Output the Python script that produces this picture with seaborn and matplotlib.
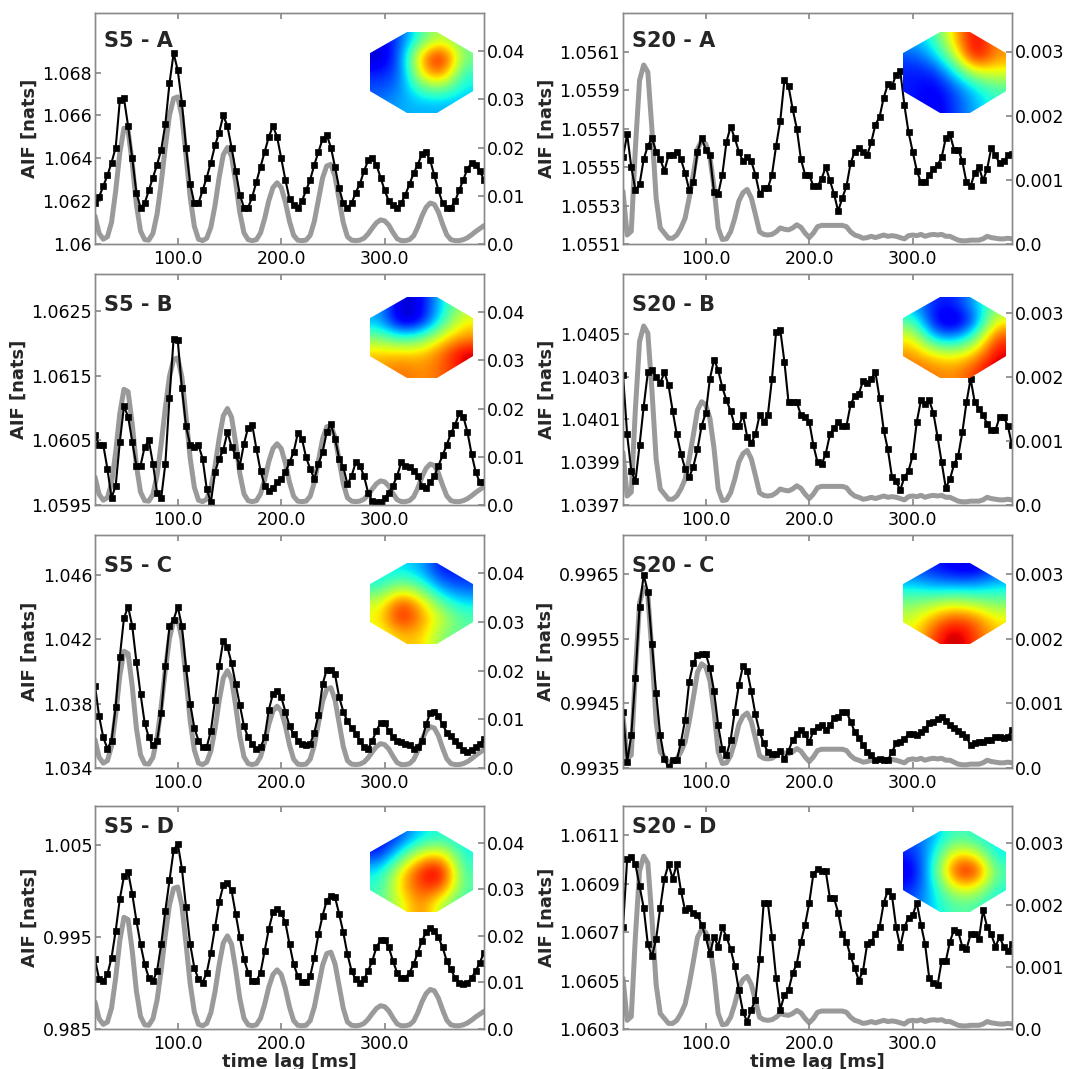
import numpy as np
import matplotlib
matplotlib.use("Agg")
import matplotlib.pyplot as plt
import seaborn as sns
from matplotlib.patches import Polygon

sns.set_theme(style="white")
plt.rcParams["font.family"] = ["DejaVu Sans"]

# ---------------- data ----------------
LAGS = list(range(20, 400, 4))  # time lag [ms]

S5_A = [1.0619, 1.0622, 1.0627, 1.0632, 1.0638, 1.0645, 1.0667, 1.0668, 1.0655, 1.0640,
        1.0624, 1.0617, 1.0619, 1.0625, 1.0631, 1.0637, 1.0644, 1.0656, 1.0675, 1.0689,
        1.0681, 1.0666, 1.0645, 1.0628, 1.0619, 1.0619, 1.0625, 1.0631, 1.0638, 1.0646,
        1.0652, 1.0660, 1.0655, 1.0645, 1.0634, 1.0623, 1.0617, 1.0617, 1.0622, 1.0629,
        1.0636, 1.0643, 1.0650, 1.0655, 1.0650, 1.0640, 1.0630, 1.0621, 1.0618, 1.0617,
        1.0620, 1.0625, 1.0630, 1.0637, 1.0643, 1.0649, 1.0651, 1.0645, 1.0636, 1.0626,
        1.0619, 1.0617, 1.0619, 1.0624, 1.0628, 1.0634, 1.0639, 1.0640, 1.0637, 1.0631,
        1.0625, 1.0620, 1.0618, 1.0617, 1.0619, 1.0623, 1.0628, 1.0633, 1.0637, 1.0642,
        1.0643, 1.0639, 1.0632, 1.0625, 1.0619, 1.0617, 1.0617, 1.0620, 1.0625, 1.0630,
        1.0635, 1.0638, 1.0637, 1.0634, 1.0630]

S5_B = [1.06058, 1.06043, 1.06043, 1.06006, 1.05961, 1.05980, 1.06048, 1.06103, 1.06087, 1.06048,
        1.06011, 1.06011, 1.06040, 1.06050, 1.06014, 1.05969, 1.05961, 1.06014, 1.06116, 1.06208,
        1.06205, 1.06131, 1.06072, 1.06043, 1.06040, 1.06043, 1.06022, 1.05975, 1.05954, 1.06001,
        1.06022, 1.06035, 1.06063, 1.06040, 1.06027, 1.06011, 1.06045, 1.06070, 1.06074, 1.06037,
        1.06003, 1.05980, 1.05972, 1.05977, 1.05985, 1.05990, 1.06001, 1.06016, 1.06032, 1.06061,
        1.06053, 1.06024, 1.06006, 1.05990, 1.06014, 1.06032, 1.06063, 1.06075, 1.06053, 1.06022,
        1.06009, 1.05982, 1.05995, 1.06016, 1.06011, 1.05995, 1.05969, 1.05956, 1.05955, 1.05955,
        1.05961, 1.05969, 1.05980, 1.05995, 1.06016, 1.06011, 1.06009, 1.06003, 1.05995, 1.05980,
        1.05977, 1.05985, 1.05995, 1.06011, 1.06027, 1.06043, 1.06061, 1.06074, 1.06092, 1.06087,
        1.06063, 1.06029, 1.06001, 1.05985, 1.05985]

S5_C = [1.0391, 1.0372, 1.0359, 1.0352, 1.0357, 1.0378, 1.0409, 1.0433, 1.0440, 1.0428,
        1.0406, 1.0386, 1.0368, 1.0359, 1.0354, 1.0357, 1.0374, 1.0403, 1.0428, 1.0432,
        1.0440, 1.0428, 1.0402, 1.0380, 1.0365, 1.0357, 1.0353, 1.0353, 1.0363, 1.0382,
        1.0403, 1.0419, 1.0415, 1.0405, 1.0392, 1.0379, 1.0366, 1.0359, 1.0355, 1.0352,
        1.0353, 1.0359, 1.0376, 1.0386, 1.0388, 1.0384, 1.0375, 1.0366, 1.0361, 1.0357,
        1.0355, 1.0354, 1.0355, 1.0362, 1.0373, 1.0392, 1.0401, 1.0401, 1.0398, 1.0384,
        1.0375, 1.0369, 1.0365, 1.0361, 1.0357, 1.0353, 1.0352, 1.0357, 1.0363, 1.0368,
        1.0368, 1.0363, 1.0359, 1.0357, 1.0356, 1.0355, 1.0354, 1.0352, 1.0353, 1.0357,
        1.0367, 1.0374, 1.0375, 1.0372, 1.0367, 1.0362, 1.0360, 1.0357, 1.0354, 1.0351,
        1.0350, 1.0351, 1.0353, 1.0355, 1.0358]

S5_D = [0.99256, 0.99038, 0.99020, 0.99093, 0.99275, 0.99565, 0.99911, 1.00155, 1.00202, 0.99965,
        0.99675, 0.99420, 0.99202, 0.99056, 0.99020, 0.99129, 0.99420, 0.99784, 1.00111, 1.00438,
        1.00511, 1.00238, 0.99820, 0.99420, 0.99165, 0.99038, 0.99002, 0.99111, 0.99329, 0.99602,
        0.99875, 1.00056, 1.00082, 1.00002, 0.99747, 0.99493, 0.99256, 0.99111, 0.99020, 0.99020,
        0.99111, 0.99347, 0.99584, 0.99765, 0.99802, 0.99755, 0.99656, 0.99420, 0.99202, 0.99075,
        0.99013, 0.99013, 0.99075, 0.99275, 0.99529, 0.99729, 0.99893, 0.99947, 0.99929, 0.99747,
        0.99547, 0.99311, 0.99129, 0.99038, 0.99002, 0.99038, 0.99129, 0.99238, 0.99384, 0.99464,
        0.99464, 0.99384, 0.99238, 0.99111, 0.99056, 0.99056, 0.99111, 0.99202, 0.99329, 0.99456,
        0.99547, 0.99591, 0.99565, 0.99493, 0.99384, 0.99238, 0.99147, 0.99056, 0.99002, 0.98990,
        0.99002, 0.99056, 0.99129, 0.99220, 0.99329]

S20_A = [1.05555, 1.05567, 1.05550, 1.05538, 1.05541, 1.05554, 1.05561, 1.05565, 1.05558, 1.05554,
         1.05548, 1.05556, 1.05556, 1.05558, 1.05554, 1.05547, 1.05538, 1.05542, 1.05558, 1.05565,
         1.05559, 1.05556, 1.05537, 1.05536, 1.05546, 1.05563, 1.05571, 1.05565, 1.05558, 1.05553,
         1.05555, 1.05553, 1.05546, 1.05536, 1.05539, 1.05539, 1.05546, 1.05561, 1.05574, 1.05595,
         1.05592, 1.05580, 1.05570, 1.05554, 1.05546, 1.05546, 1.05540, 1.05540, 1.05544, 1.05550,
         1.05543, 1.05536, 1.05527, 1.05534, 1.05540, 1.05552, 1.05558, 1.05560, 1.05558, 1.05556,
         1.05563, 1.05572, 1.05576, 1.05586, 1.05593, 1.05592, 1.05598, 1.05600, 1.05582, 1.05568,
         1.05558, 1.05548, 1.05542, 1.05542, 1.05546, 1.05549, 1.05551, 1.05555, 1.05565, 1.05567,
         1.05559, 1.05559, 1.05553, 1.05542, 1.05540, 1.05547, 1.05550, 1.05543, 1.05549, 1.05560,
         1.05556, 1.05552, 1.05553, 1.05556, 1.05557]

S20_B = [1.04031, 1.04003, 1.03986, 1.03981, 1.03998, 1.04016, 1.04032, 1.04033, 1.04030, 1.04027,
         1.04032, 1.04026, 1.04014, 1.04003, 1.03994, 1.03987, 1.03983, 1.03988, 1.03996, 1.04007,
         1.04013, 1.04029, 1.04038, 1.04033, 1.04025, 1.04019, 1.04014, 1.04007, 1.04007, 1.04012,
         1.04002, 1.03999, 1.04003, 1.04012, 1.04009, 1.04012, 1.04029, 1.04051, 1.04052, 1.04037,
         1.04018, 1.04018, 1.04018, 1.04012, 1.04011, 1.04009, 1.03998, 1.03990, 1.03989, 1.03994,
         1.04003, 1.04006, 1.04009, 1.04007, 1.04007, 1.04017, 1.04021, 1.04022, 1.04028, 1.04027,
         1.04029, 1.04032, 1.04020, 1.04005, 1.03996, 1.03983, 1.03981, 1.03977, 1.03983, 1.03986,
         1.03993, 1.04009, 1.04019, 1.04017, 1.04019, 1.04013, 1.04002, 1.03990, 1.03978, 1.03982,
         1.03989, 1.03993, 1.04004, 1.04018, 1.04029, 1.04018, 1.04015, 1.04012, 1.04008, 1.04005,
         1.04005, 1.04011, 1.04011, 1.04007, 1.03998]

S20_C = [0.99437, 0.99359, 0.99401, 0.99490, 0.99600, 0.99649, 0.99623, 0.99542, 0.99466, 0.99401,
         0.99364, 0.99351, 0.99362, 0.99362, 0.99390, 0.99424, 0.99484, 0.99513, 0.99525, 0.99526,
         0.99527, 0.99505, 0.99469, 0.99416, 0.99379, 0.99370, 0.99393, 0.99437, 0.99479, 0.99508,
         0.99501, 0.99469, 0.99433, 0.99406, 0.99388, 0.99375, 0.99372, 0.99372, 0.99376, 0.99364,
         0.99377, 0.99393, 0.99403, 0.99409, 0.99402, 0.99390, 0.99407, 0.99414, 0.99416, 0.99409,
         0.99416, 0.99427, 0.99429, 0.99437, 0.99437, 0.99422, 0.99406, 0.99397, 0.99385, 0.99375,
         0.99370, 0.99363, 0.99364, 0.99363, 0.99362, 0.99375, 0.99388, 0.99390, 0.99395, 0.99403,
         0.99403, 0.99401, 0.99406, 0.99411, 0.99419, 0.99422, 0.99426, 0.99429, 0.99423, 0.99416,
         0.99412, 0.99407, 0.99403, 0.99398, 0.99385, 0.99389, 0.99390, 0.99391, 0.99393, 0.99394,
         0.99398, 0.99398, 0.99397, 0.99398, 0.99409]

S20_D = [1.06072, 1.06100, 1.06101, 1.06098, 1.06089, 1.06080, 1.06065, 1.06060, 1.06067, 1.06080,
         1.06092, 1.06098, 1.06092, 1.06098, 1.06087, 1.06079, 1.06080, 1.06078, 1.06077, 1.06073,
         1.06068, 1.06061, 1.06068, 1.06064, 1.06072, 1.06068, 1.06063, 1.06056, 1.06046, 1.06037,
         1.06033, 1.06038, 1.06042, 1.06059, 1.06082, 1.06082, 1.06068, 1.06051, 1.06038, 1.06044,
         1.06046, 1.06053, 1.06057, 1.06066, 1.06073, 1.06082, 1.06094, 1.06096, 1.06095, 1.06095,
         1.06084, 1.06084, 1.06078, 1.06069, 1.06066, 1.06060, 1.06055, 1.06050, 1.06054, 1.06065,
         1.06066, 1.06069, 1.06072, 1.06082, 1.06087, 1.06085, 1.06072, 1.06064, 1.06072, 1.06076,
         1.06077, 1.06082, 1.06073, 1.06065, 1.06051, 1.06049, 1.06048, 1.06058, 1.06058, 1.06066,
         1.06071, 1.06070, 1.06064, 1.06063, 1.06069, 1.06069, 1.06067, 1.06079, 1.06072, 1.06069,
         1.06064, 1.06068, 1.06064, 1.06062, 1.06065]

GRAY_S5 = [0.0058, 0.0022, 0.0010, 0.0015, 0.0045, 0.0110, 0.0190, 0.0240, 0.0235, 0.0168,
           0.0082, 0.0027, 0.0009, 0.0008, 0.0022, 0.0062, 0.0127, 0.0202, 0.0267, 0.0302,
           0.0305, 0.0265, 0.0183, 0.0097, 0.0037, 0.0010, 0.0007, 0.0012, 0.0035, 0.0080,
           0.0138, 0.0185, 0.0200, 0.0182, 0.0128, 0.0065, 0.0023, 0.0009, 0.0007, 0.0009,
           0.0023, 0.0053, 0.0090, 0.0117, 0.0127, 0.0117, 0.0087, 0.0047, 0.0018, 0.0008,
           0.0007, 0.0008, 0.0018, 0.0047, 0.0092, 0.0137, 0.0162, 0.0165, 0.0140, 0.0092,
           0.0044, 0.0015, 0.0008, 0.0007, 0.0008, 0.0012, 0.0021, 0.0033, 0.0044, 0.0050,
           0.0048, 0.0039, 0.0024, 0.0011, 0.0007, 0.0007, 0.0009, 0.0017, 0.0035, 0.0058,
           0.0076, 0.0085, 0.0082, 0.0066, 0.0041, 0.0019, 0.0009, 0.0007, 0.0007, 0.0009,
           0.0013, 0.0019, 0.0026, 0.0032, 0.0038]

GRAY_S20 = [0.00082, 0.00014, 0.00020, 0.00150, 0.00255, 0.00279, 0.00268, 0.00178, 0.00072, 0.00025,
            0.00017, 0.00009, 0.00009, 0.00014, 0.00025, 0.00040, 0.00072, 0.00109, 0.00148, 0.00161,
            0.00156, 0.00135, 0.00088, 0.00025, 0.00007, 0.00008, 0.00019, 0.00040, 0.00067, 0.00080,
            0.00085, 0.00072, 0.00046, 0.00019, 0.00015, 0.00014, 0.00015, 0.00019, 0.00025, 0.00023,
            0.00022, 0.00025, 0.00030, 0.00026, 0.00017, 0.00010, 0.00017, 0.00027, 0.00029, 0.00029,
            0.00029, 0.00029, 0.00029, 0.00029, 0.00027, 0.00019, 0.00014, 0.00012, 0.00009, 0.00010,
            0.00012, 0.00010, 0.00012, 0.00014, 0.00012, 0.00013, 0.00012, 0.00010, 0.00008, 0.00013,
            0.00014, 0.00013, 0.00015, 0.00012, 0.00014, 0.00015, 0.00014, 0.00015, 0.00012, 0.00012,
            0.00009, 0.00006, 0.00005, 0.00005, 0.00006, 0.00006, 0.00006, 0.00008, 0.00012, 0.00010,
            0.00009, 0.00008, 0.00008, 0.00009, 0.00008]

YTICKS_S5_A = [1.06, 1.062, 1.064, 1.066, 1.068]
YTICKS_S5_B = [1.0595, 1.0605, 1.0615, 1.0625]
YTICKS_S5_C = [1.034, 1.038, 1.042, 1.046]
YTICKS_S5_D = [0.985, 0.995, 1.005]
YTICKS_S20_A = [1.0551, 1.0553, 1.0555, 1.0557, 1.0559, 1.0561]
YTICKS_S20_B = [1.0397, 1.0399, 1.0401, 1.0403, 1.0405]
YTICKS_S20_C = [0.9935, 0.9945, 0.9955, 0.9965]
YTICKS_S20_D = [1.0603, 1.0605, 1.0607, 1.0609, 1.0611]

YLIM_TOPS = {"S5 - A": 1.07078, "S5 - B": 1.06308, "S5 - C": 1.04845, "S5 - D": 1.00918,
             "S20 - A": 1.05630, "S20 - B": 1.04078, "S20 - C": 0.99711, "S20 - D": 1.06122}

RIGHT_TICKS_S5 = [0.0, 0.01, 0.02, 0.03, 0.04]
RIGHT_TICKS_S20 = [0.0, 0.001, 0.002, 0.003]
RIGHT_TOP_S5 = 0.0479
RIGHT_TOP_S20 = 0.00360

XTICKS = [100, 200, 300]
XTICKLABELS = ["100.0", "200.0", "300.0"]

# topographic maps (relative activation, 0 = blue ... 1 = dark red), rows top->bottom
TOPO_S5_A = [[0.10, 0.20, 0.45, 0.60, 0.45],
             [0.05, 0.22, 0.75, 0.97, 0.50],
             [0.15, 0.20, 0.70, 0.85, 0.40],
             [0.20, 0.25, 0.45, 0.50, 0.35],
             [0.25, 0.30, 0.30, 0.30, 0.30]]
TOPO_S20_A = [[0.30, 0.40, 0.70, 0.95, 0.75],
              [0.20, 0.30, 0.55, 0.97, 0.75],
              [0.15, 0.15, 0.35, 0.60, 0.62],
              [0.15, 0.10, 0.20, 0.35, 0.45],
              [0.15, 0.08, 0.18, 0.30, 0.40]]
TOPO_S5_B = [[0.30, 0.05, 0.10, 0.35, 0.55],
             [0.30, 0.03, 0.10, 0.40, 0.65],
             [0.50, 0.40, 0.45, 0.65, 0.75],
             [0.70, 0.70, 0.70, 0.80, 0.95],
             [0.75, 0.80, 0.75, 0.80, 0.90]]
TOPO_S20_B = [[0.30, 0.15, 0.15, 0.30, 0.50],
              [0.45, 0.10, 0.03, 0.20, 0.65],
              [0.65, 0.30, 0.25, 0.45, 0.85],
              [0.75, 0.65, 0.60, 0.70, 0.92],
              [0.80, 0.78, 0.75, 0.85, 0.95]]
TOPO_S5_C = [[0.35, 0.35, 0.30, 0.12, 0.15],
             [0.40, 0.55, 0.45, 0.25, 0.20],
             [0.60, 0.88, 0.70, 0.45, 0.35],
             [0.65, 0.92, 0.75, 0.60, 0.45],
             [0.60, 0.70, 0.70, 0.50, 0.45]]
TOPO_S20_C = [[0.20, 0.15, 0.10, 0.08, 0.20],
              [0.35, 0.30, 0.30, 0.30, 0.35],
              [0.50, 0.55, 0.60, 0.55, 0.50],
              [0.60, 0.75, 0.85, 0.80, 0.65],
              [0.65, 0.85, 0.97, 0.85, 0.70]]
TOPO_S5_D = [[0.10, 0.20, 0.35, 0.40, 0.35],
             [0.15, 0.40, 0.65, 0.70, 0.38],
             [0.35, 0.65, 0.90, 0.97, 0.42],
             [0.40, 0.70, 0.85, 0.85, 0.45],
             [0.45, 0.60, 0.80, 0.55, 0.40]]
TOPO_S20_D = [[0.20, 0.30, 0.45, 0.40, 0.35],
              [0.15, 0.35, 0.70, 0.65, 0.35],
              [0.08, 0.40, 0.88, 0.95, 0.45],
              [0.15, 0.35, 0.65, 0.65, 0.40],
              [0.20, 0.35, 0.45, 0.45, 0.35]]

OCTAGON = [(0.36, 1.0), (0.65, 1.0), (1.0, 0.74), (1.0, 0.27),
           (0.65, 0.0), (0.36, 0.0), (0.0, 0.27), (0.0, 0.74)]

PANELS = [
    ("S5 - A", S5_A, GRAY_S5, YTICKS_S5_A, TOPO_S5_A),
    ("S20 - A", S20_A, GRAY_S20, YTICKS_S20_A, TOPO_S20_A),
    ("S5 - B", S5_B, GRAY_S5, YTICKS_S5_B, TOPO_S5_B),
    ("S20 - B", S20_B, GRAY_S20, YTICKS_S20_B, TOPO_S20_B),
    ("S5 - C", S5_C, GRAY_S5, YTICKS_S5_C, TOPO_S5_C),
    ("S20 - C", S20_C, GRAY_S20, YTICKS_S20_C, TOPO_S20_C),
    ("S5 - D", S5_D, GRAY_S5, YTICKS_S5_D, TOPO_S5_D),
    ("S20 - D", S20_D, GRAY_S20, YTICKS_S20_D, TOPO_S20_D),
]

# ---------------- layout (pixels) ----------------
W, H = 1072, 1069
COL_X = [(95, 484), (623, 1012)]
ROW_Y = [(13, 244), (274, 505), (535, 768), (806, 1029)]
INSET_X = [(370, 473), (903, 1006)]
INSET_Y = [(32, 113), (297, 378), (563, 644), (831, 912)]
TITLE_X = [104, 632]
TITLE_BASE = [47, 311, 572, 833]

SPINE = "#8a8a8a"
GRAY = "#9a9a9a"

fig = plt.figure(figsize=(W / 100, H / 100), dpi=100)


def fig_rect(x0, x1, ytop, ybot):
    return [x0 / W, 1 - ybot / H, (x1 - x0) / W, (ybot - ytop) / H]


for i, (title, black, gray, yticks, topo) in enumerate(PANELS):
    r, c = divmod(i, 2)
    x0, x1 = COL_X[c]
    yt, yb = ROW_Y[r]
    ax = fig.add_axes(fig_rect(x0, x1, yt, yb))
    ax2 = ax.twinx()

    sns.lineplot(x=LAGS, y=gray, ax=ax2, color=GRAY, lw=3.6, estimator=None,
                 sort=False, solid_capstyle="round")
    sns.lineplot(x=LAGS, y=black, ax=ax, color="black", lw=1.5, marker="s",
                 markersize=4.2, markeredgecolor="black", markeredgewidth=0.5,
                 estimator=None, sort=False)

    ax.set_zorder(ax2.get_zorder() + 1)
    ax.patch.set_visible(False)

    ax.set_xlim(LAGS[0], LAGS[-1])
    ax.set_ylim(yticks[0], YLIM_TOPS[title])
    ax.set_yticks(yticks)
    ax.set_yticklabels([repr(v) for v in yticks])
    ax.set_xticks(XTICKS)
    ax.set_xticklabels(XTICKLABELS)

    is_s5 = title.startswith("S5")
    rt = RIGHT_TICKS_S5 if is_s5 else RIGHT_TICKS_S20
    ax2.set_ylim(0, RIGHT_TOP_S5 if is_s5 else RIGHT_TOP_S20)
    ax2.set_yticks(rt)
    ax2.set_yticklabels([repr(v) for v in rt])

    ax.tick_params(axis="x", direction="in", bottom=True, top=True, length=4,
                   color=SPINE, labelsize=12.5, pad=4, labelcolor="black")
    ax.tick_params(axis="y", direction="in", left=True, right=False, length=4,
                   color=SPINE, labelsize=12.5, pad=2, labelcolor="black")
    ax2.tick_params(axis="y", direction="in", right=True, left=False, length=4,
                    color=SPINE, labelsize=12.5, pad=2, labelcolor="black")
    for a in (ax, ax2):
        for s in a.spines.values():
            s.set_color(SPINE)
            s.set_linewidth(1.0)
    ax2.grid(False)
    ax.grid(False)

    ax.set_ylabel("AIF [nats]", fontsize=13, fontweight="bold", labelpad=3)
    ax2.set_ylabel("")
    if r == 3:
        ax.set_xlabel("time lag [ms]", fontsize=13, fontweight="bold", labelpad=0)
    else:
        ax.set_xlabel("")

    fig.text(TITLE_X[c] / W, 1 - TITLE_BASE[r] / H, title, fontsize=15,
             fontweight="bold", va="baseline", ha="left", zorder=20)

    # topographic inset
    ix0, ix1 = INSET_X[c]
    iy0, iy1 = INSET_Y[r]
    axi = fig.add_axes(fig_rect(ix0, ix1, iy0, iy1))
    axi.set_zorder(10)
    im = axi.imshow(np.array(topo), cmap="jet", vmin=0, vmax=1,
                    interpolation="bicubic", extent=(0, 1, 0, 1), aspect="auto")
    poly = Polygon(OCTAGON, closed=True, transform=axi.transData,
                   facecolor="none", edgecolor="none")
    axi.add_patch(poly)
    im.set_clip_path(poly)
    axi.set_xlim(0, 1)
    axi.set_ylim(0, 1)
    axi.axis("off")
    axi.patch.set_visible(False)

fig.savefig("out.png", dpi=100)
